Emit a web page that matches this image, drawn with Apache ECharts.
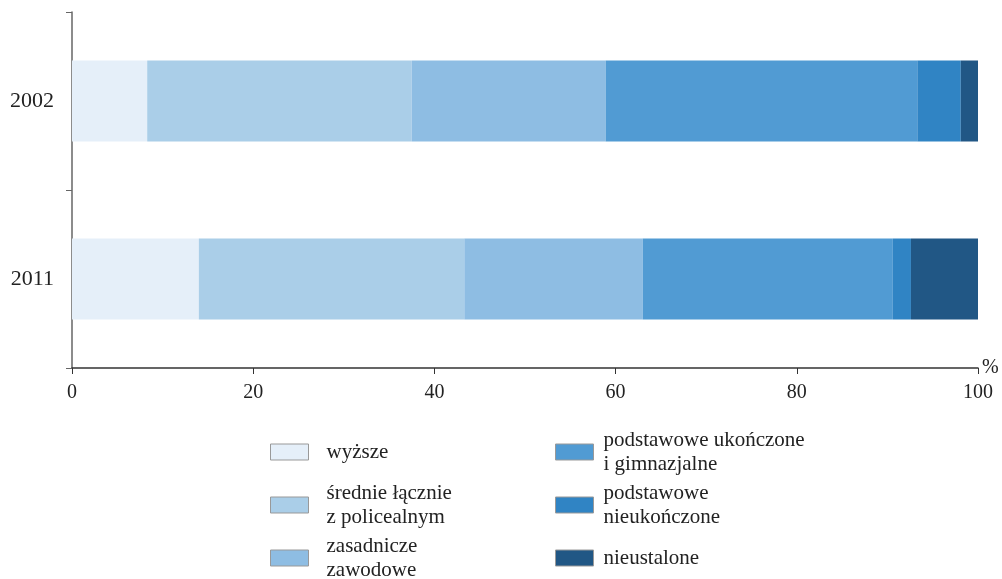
<!DOCTYPE html>
<html>
<head>
<meta charset="utf-8">
<script src="https://cdn.jsdelivr.net/npm/echarts@6/dist/echarts.min.js"></script>
<style>html,body{margin:0;padding:0;background:#fff}#c{width:1002px;height:579px}</style>
</head>
<body>
<div id="c"></div>
<script>
const categories = ['2002', '2011'];
const seriesNames = ['wyższe', 'średnie łącznie\nz policealnym', 'zasadnicze\nzawodowe', 'podstawowe ukończone\ni gimnazjalne', 'podstawowe\nnieukończone', 'nieustalone'];
const wyzsze = [8.3, 14.0];
const srednie = [29.2, 29.3];
const zasadnicze = [21.4, 19.7];
const podstUkonczone = [34.4, 27.6];
const podstNieukonczone = [4.8, 2.0];
const nieustalone = [1.9, 7.4];
const xTicks = [0, 20, 40, 60, 80, 100];

const colors = ['#E5EFF9', '#AACEE8', '#8EBDE3', '#519BD3', '#3084C4', '#215785'];
const values = [wyzsze, srednie, zasadnicze, podstUkonczone, podstNieukonczone, nieustalone];
const FONT = '"Liberation Serif", "Times New Roman", serif';

const series = seriesNames.map((n, i) => ({
  name: n, type: 'bar', stack: 'total', data: values[i], barWidth: '45.5%',
  itemStyle: { color: colors[i] }, emphasis: { disabled: true }
}));

// legend placement: [left, top, text gap]
const legendPos = [[270, 440, 13], [270, 481, 13], [270, 534, 13], [555, 428, 5], [555, 481, 5], [555, 546, 5]];
const legends = seriesNames.map((n, i) => ({
  left: legendPos[i][0], top: legendPos[i][1], orient: 'vertical', padding: 0,
  data: [n], icon: 'rect', itemWidth: 38, itemHeight: 16, itemGap: 0,
  selectedMode: false,
  itemStyle: { borderColor: '#999', borderWidth: 1 },
  textStyle: { fontFamily: FONT, fontSize: 21, lineHeight: 24, color: '#222', padding: [0, 0, 0, legendPos[i][2]] }
}));

const chart = echarts.init(document.getElementById('c'));
chart.setOption({
  animation: false,
  backgroundColor: '#fff',
  grid: { left: 72, right: 24, top: 12, bottom: 211 },
  legend: legends,
  xAxis: {
    type: 'value', min: 0, max: 100, interval: 20,
    name: '%', nameLocation: 'end', nameGap: 4,
    nameTextStyle: { fontFamily: FONT, fontSize: 20, color: '#222', verticalAlign: 'middle', padding: [6, 0, 0, 0] },
    axisLine: { show: true, lineStyle: { color: '#333', width: 1.5 } },
    axisTick: { show: true, length: 6, lineStyle: { color: '#333' } },
    axisLabel: { fontFamily: FONT, fontSize: 20, color: '#222', margin: 15,
      formatter: v => xTicks.includes(v) ? String(v) : '' },
    splitLine: { show: false }
  },
  yAxis: {
    type: 'category', data: categories, inverse: true,
    axisLine: { show: true, lineStyle: { color: '#666', width: 1.5 } },
    axisTick: { show: true, length: 6, lineStyle: { color: '#666' } },
    axisLabel: { fontFamily: FONT, fontSize: 22, color: '#222', margin: 18 }
  },
  series: series
});
</script>
</body>
</html>
